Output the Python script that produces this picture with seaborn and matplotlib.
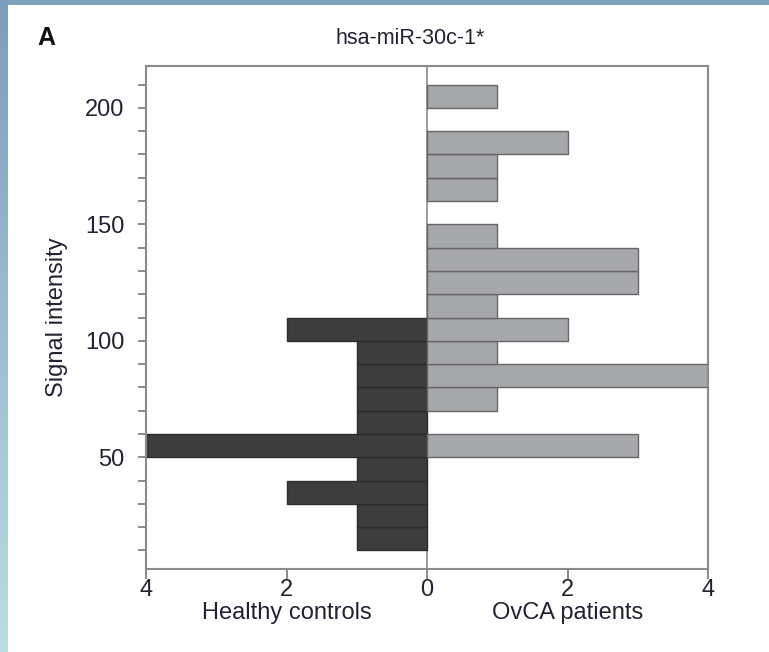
import matplotlib
matplotlib.use("Agg")
import matplotlib.pyplot as plt
import numpy as np
import pandas as pd
import seaborn as sns

# Histogram bins of signal intensity (lower edges, width 10)
bin_lower = [10, 20, 30, 40, 50, 60, 70, 80, 90, 100,
             110, 120, 130, 140, 150, 160, 170, 180, 190, 200]
healthy_counts = [1, 1, 2, 1, 4, 1, 1, 1, 1, 2,
                  0, 0, 0, 0, 0, 0, 0, 0, 0, 0]
ovca_counts = [0, 0, 0, 0, 3, 0, 1, 4, 1, 2,
               1, 3, 3, 1, 0, 1, 1, 2, 0, 1]

panel_title = "hsa-miR-30c-1*"
y_label = "Signal intensity"
left_label = "Healthy controls"
right_label = "OvCA patients"

sns.set_theme(style="white")
plt.rcParams["font.family"] = ["Liberation Sans", "DejaVu Sans"]

# Build the frames for seaborn, dropping empty bins
df = pd.DataFrame({"signal": np.array(bin_lower) + 5,
                   "healthy": healthy_counts, "ovca": ovca_counts})
df_h = df[df["healthy"] > 0].assign(count=lambda d: -d["healthy"])
df_o = df[df["ovca"] > 0].assign(count=lambda d: d["ovca"])

W, H = 769, 652
fig = plt.figure(figsize=(W / 100, H / 100), dpi=100)
fig.patch.set_facecolor("white")

# slide-style frame: top strip and left gradient strip
top_ax = fig.add_axes([0, 1 - 5 / H, 1, 5 / H])
top_ax.set_axis_off()
top_ax.add_patch(plt.Rectangle((0, 0), 1, 1, color="#7ea2bc", transform=top_ax.transAxes))
left_ax = fig.add_axes([0, 0, 8 / W, 1])
grad = np.linspace(0, 1, 256).reshape(-1, 1)
cmap = matplotlib.colors.LinearSegmentedColormap.from_list("frame", ["#b9dde4", "#7b9ebb"])
left_ax.imshow(grad, aspect="auto", cmap=cmap, origin="lower", extent=[0, 1, 0, 1])
left_ax.set_axis_off()

ax = fig.add_axes([146 / W, 1 - 569 / H, (708 - 146) / W, (569 - 66) / H])

sns.barplot(data=df_h, x="count", y="signal", orient="h", native_scale=True,
            width=1, color="#3d3d3d", edgecolor="#2b2b2b", linewidth=1,
            saturation=1, errorbar=None, ax=ax)
sns.barplot(data=df_o, x="count", y="signal", orient="h", native_scale=True,
            width=1, color="#a7a8ab", edgecolor="#666666", linewidth=1,
            saturation=1, errorbar=None, ax=ax)

ax.axvline(0, color="#8a8a8a", linewidth=1.2, zorder=0)

ax.set_xlim(-4, 4)
ax.set_ylim(2, 218)
ax.set_xticks([-4, -2, 0, 2, 4])
ax.set_xticklabels(["4", "2", "0", "2", "4"])
yt = list(range(10, 220, 10))
ax.set_yticks(yt)
ax.set_yticklabels([str(v) if v % 50 == 0 else "" for v in yt])
ax.tick_params(axis="y", direction="out", length=5.5, width=1.2, color="#777777",
               labelsize=17, pad=10, labelcolor="#222233", left=True)
ax.tick_params(axis="x", direction="out", length=7, width=1.2, color="#777777",
               labelsize=17, pad=0, labelcolor="#222233", bottom=True)
for s in ax.spines.values():
    s.set_color("#8a8a8a")
    s.set_linewidth(1.5)
ax.set_xlabel("")
ax.set_ylabel(y_label, fontsize=17, color="#222233", labelpad=12)

fig.text(410 / W, 1 - 38 / H, panel_title, ha="center", va="center",
         fontsize=15.5, color="#222233")
fig.text(37 / W, 1 - 38 / H, "A", ha="left", va="center",
         fontsize=18, fontweight="bold", color="#111111")
ax.text(-2, -0.088, left_label, transform=ax.get_xaxis_transform(),
        ha="center", va="center", fontsize=17, color="#222233")
ax.text(2, -0.088, right_label, transform=ax.get_xaxis_transform(),
        ha="center", va="center", fontsize=17, color="#222233")

fig.savefig("out.png", dpi=100, facecolor="white")
